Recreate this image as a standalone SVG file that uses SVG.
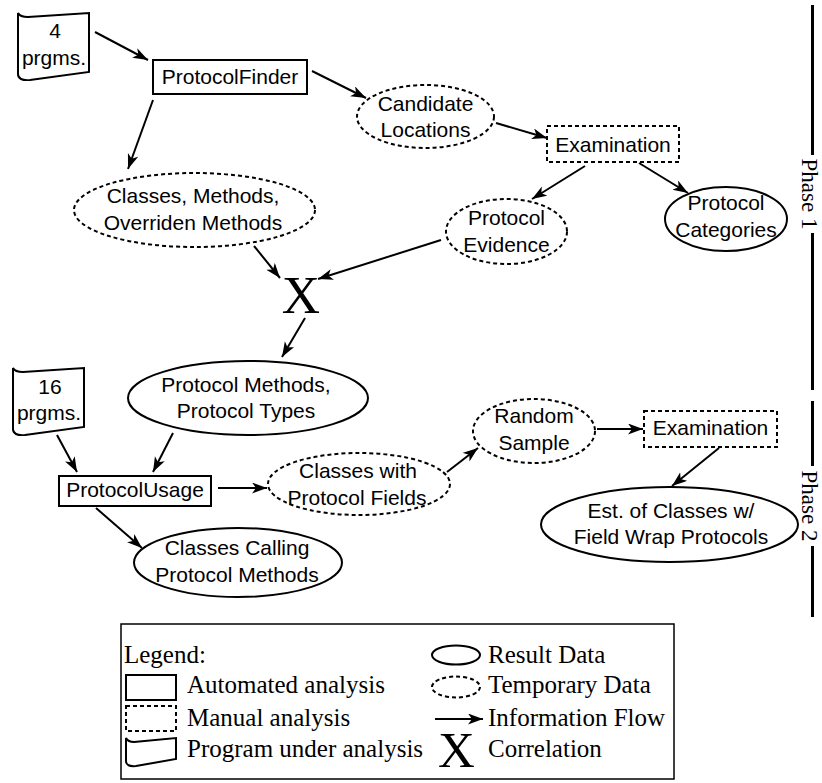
<svg xmlns="http://www.w3.org/2000/svg" width="822" height="783" viewBox="0 0 822 783">
<defs>
<marker id="ah" markerUnits="userSpaceOnUse" markerWidth="16" markerHeight="12" refX="15" refY="5.5" orient="auto">
<path d="M0,0 L15,5.5 L0,11 L4,5.5 Z" fill="#000"/>
</marker>
</defs>
<style>
.s{fill:#fff;stroke:#000;stroke-width:2}
.d{fill:#fff;stroke:#000;stroke-width:2;stroke-dasharray:4,3}
.t{font-family:"Liberation Sans",Arial,sans-serif;font-size:21px;text-anchor:middle;fill:#000}
.x{font-family:"Liberation Serif","Times New Roman",serif;font-size:53px;text-anchor:middle;fill:#000}
.lg{font-family:"Liberation Serif","Times New Roman",serif;font-size:25px;fill:#000}
.ph{font-family:"Liberation Serif","Times New Roman",serif;font-size:23px;text-anchor:middle;fill:#000}
.c{stroke:#000;stroke-width:2;fill:none;marker-end:url(#ah)}
.bar{stroke:#000;stroke-width:3}
</style>
<rect width="822" height="783" fill="#fff"/>

<g id="connectors">
<line class="c" x1="95" y1="32" x2="148" y2="60"/>
<line class="c" x1="312" y1="71" x2="366" y2="98"/>
<line class="c" x1="153" y1="100" x2="128" y2="169"/>
<line class="c" x1="496" y1="123" x2="547" y2="138"/>
<line class="c" x1="585" y1="166" x2="532" y2="199"/>
<line class="c" x1="639" y1="163" x2="688" y2="193"/>
<line class="c" x1="441" y1="240" x2="318" y2="279"/>
<line class="c" x1="254" y1="246" x2="280" y2="278"/>
<line class="c" x1="305" y1="318" x2="282" y2="357"/>
<line class="c" x1="57" y1="435" x2="77" y2="472"/>
<line class="c" x1="173" y1="433" x2="153" y2="472"/>
<line class="c" x1="218" y1="488" x2="267" y2="488"/>
<line class="c" x1="96" y1="508" x2="142" y2="548"/>
<line class="c" x1="447" y1="472" x2="478" y2="448"/>
<line class="c" x1="597" y1="429" x2="643" y2="429"/>
<line class="c" x1="719" y1="448" x2="672" y2="486"/>
</g>

<g id="prog4">
<path class="s" d="M18,13 Q20,17 28,17 L89,13 L89,72 L30,80 Q18,81 18,74 Z"/>
<text class="t" x="55" y="38">4</text>
<text class="t" x="54" y="65">prgms.</text>
</g>

<g id="protocolFinder">
<rect class="s" x="153" y="60" width="154" height="34"/>
<text class="t" x="230" y="84">ProtocolFinder</text>
</g>

<g id="candidateLocations">
<ellipse class="d" cx="425.5" cy="116.5" rx="68.5" ry="31.5"/>
<text class="t" x="425.5" y="111">Candidate</text>
<text class="t" x="425.5" y="137">Locations</text>
</g>

<g id="examination1">
<rect class="d" x="547" y="126" width="132" height="36"/>
<text class="t" x="613" y="152">Examination</text>
</g>

<g id="classesMethods">
<ellipse class="d" cx="194.5" cy="210" rx="120.5" ry="37"/>
<text class="t" x="193" y="203">Classes, Methods,</text>
<text class="t" x="193" y="230">Overriden Methods</text>
</g>

<g id="protocolEvidence">
<ellipse class="d" cx="506.5" cy="231.5" rx="60.5" ry="32.5"/>
<text class="t" x="506.5" y="225">Protocol</text>
<text class="t" x="506.5" y="252">Evidence</text>
</g>

<g id="protocolCategories">
<ellipse class="s" cx="726" cy="219" rx="61" ry="32"/>
<text class="t" x="726" y="210">Protocol</text>
<text class="t" x="726" y="237">Categories</text>
</g>

<g id="correlation">
<text class="x" x="301" y="313">X</text>
</g>

<g id="protocolMethodsTypes">
<ellipse class="s" cx="248" cy="398" rx="120" ry="37"/>
<text class="t" x="246" y="392">Protocol Methods,</text>
<text class="t" x="246" y="418">Protocol Types</text>
</g>

<g id="prog16">
<path class="s" d="M13,368 Q15,372 23,372 L84,368 L84,427 L25,435 Q13,436 13,429 Z"/>
<text class="t" x="50" y="394">16</text>
<text class="t" x="49" y="420">prgms.</text>
</g>

<g id="protocolUsage">
<rect class="s" x="59" y="476" width="152" height="30"/>
<text class="t" x="135" y="497">ProtocolUsage</text>
</g>

<g id="classesWithFields">
<ellipse class="d" cx="359" cy="484" rx="91" ry="31"/>
<text class="t" x="358" y="478">Classes with</text>
<text class="t" x="357" y="505">Protocol Fields</text>
</g>

<g id="classesCalling">
<ellipse class="s" cx="238" cy="562.5" rx="104" ry="34.5"/>
<text class="t" x="237" y="555">Classes Calling</text>
<text class="t" x="237" y="582">Protocol Methods</text>
</g>

<g id="randomSample">
<ellipse class="d" cx="534" cy="431" rx="61" ry="32"/>
<text class="t" x="534" y="423">Random</text>
<text class="t" x="534" y="450">Sample</text>
</g>

<g id="examination2">
<rect class="d" x="644" y="411" width="133" height="36"/>
<text class="t" x="710.5" y="435">Examination</text>
</g>

<g id="estimate">
<ellipse class="s" cx="669.5" cy="524.5" rx="128.5" ry="37.5"/>
<text class="t" x="671" y="518">Est. of Classes w/</text>
<text class="t" x="671" y="544">Field Wrap Protocols</text>
</g>

<g id="phases">
<line class="bar" x1="812.5" y1="5" x2="812.5" y2="155"/>
<line class="bar" x1="812.5" y1="233" x2="812.5" y2="390"/>
<text class="ph" transform="translate(812,194) rotate(90)" y="10">Phase 1</text>
<line class="bar" x1="812.5" y1="401" x2="812.5" y2="466"/>
<line class="bar" x1="812.5" y1="546" x2="812.5" y2="617"/>
<text class="ph" transform="translate(812,506) rotate(90)" y="10">Phase 2</text>
</g>

<g id="legend">
<rect x="121" y="624" width="553" height="155" fill="#fff" stroke="#000" stroke-width="1.5"/>
<text class="lg" x="124" y="663">Legend:</text>
<rect class="s" x="126" y="675" width="50" height="25"/>
<text class="lg" x="187" y="693">Automated analysis</text>
<rect class="d" x="126" y="706" width="50" height="25"/>
<text class="lg" x="187" y="726">Manual analysis</text>
<path class="s" d="M126,738 Q128,742 134,742 L176,738 L176,759 L136,766 Q126,767 126,761 Z"/>
<text class="lg" x="187" y="757">Program under analysis</text>
<ellipse class="s" cx="456" cy="655" rx="24" ry="9.5"/>
<text class="lg" x="488" y="663">Result Data</text>
<ellipse class="d" cx="456" cy="687" rx="24" ry="10.5"/>
<text class="lg" x="488" y="693">Temporary Data</text>
<line class="c" x1="435" y1="719" x2="483" y2="719"/>
<text class="lg" x="488" y="726">Information Flow</text>
<text class="x" x="456.5" y="767" style="font-size:51px">X</text>
<text class="lg" x="488" y="757">Correlation</text>
</g>
</svg>
